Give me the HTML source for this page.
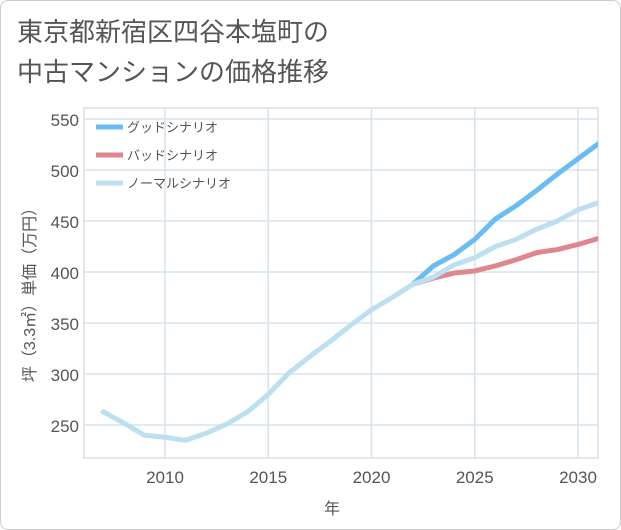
<!DOCTYPE html>
<html><head><meta charset="utf-8"><style>
body{margin:0;background:#fff;font-family:"Liberation Sans","Noto Sans CJK JP",sans-serif}
#c{position:relative;width:619px;height:528px;border:1px solid #ccc;border-radius:8px;overflow:hidden}
</style></head><body>
<div id="c">
<svg width="619" height="528" style="font-family:'Liberation Sans','Noto Sans CJK JP',sans-serif">
<text x="16" y="40" font-size="26" fill="#555">東京都新宿区四谷本塩町の</text>
<text x="16" y="80" font-size="26" fill="#555">中古マンションの価格推移</text>
<g id="grid"></g>
<g id="marks"></g>
<g id="legend"></g>
<text x="331" y="513" font-size="16" fill="#555" text-anchor="middle">年</text>
<text transform="translate(34,290) rotate(-90)" font-size="16" fill="#555" text-anchor="middle">坪（3.3㎡）単価（万円）</text>
</svg></div>
<script>
const years=[2007,2008,2009,2010,2011,2012,2013,2014,2015,2016,2017,2018,2019,2020,2021,2022,2023,2024,2025,2026,2027,2028,2029,2030,2031];
const normal=[263,252,240,238,235,242,251,263,280,301,317,332,348,363,375,388,395,407,414,425,432,442,450,461,468];
const futYears=[2022,2023,2024,2025,2026,2027,2028,2029,2030,2031];
const good=[388,406,417,432,452,465,480,496,511,526];
const bad=[388,394,399,401,406,412,419,422,427,433];
const xTicks=[2010,2015,2020,2025,2030];
const yTicks=[250,300,350,400,450,500,550];
const L=83,R=597,T=107,B=457;
const X=v=>164+(v-2010)*20.65;
const Y=v=>424-(v-250)*1.02;
const ns="http://www.w3.org/2000/svg";
function mk(p,t,a){const e=document.createElementNS(ns,t);for(const k in a)e.setAttribute(k,a[k]);p.appendChild(e);return e;}
const g=document.getElementById('grid');
const bg=mk(g,'rect',{x:L,y:T,width:R-L,height:B-T,fill:'#fff',stroke:'#ccc'});

xTicks.forEach(v=>{const l=mk(g,'line',{x1:X(v),x2:X(v),y1:T,y2:B,stroke:'#d5e3ee','stroke-width':1.5});

const t=mk(g,'text',{x:X(v),y:482,'font-size':17,fill:'#555','text-anchor':'middle'});t.textContent=v;
});
yTicks.forEach(v=>{const l=mk(g,'line',{x1:L,x2:R,y1:Y(v),y2:Y(v),stroke:'#d5e3ee','stroke-width':1.5});

const t=mk(g,'text',{x:78,y:Y(v)+7,'font-size':17,fill:'#555','text-anchor':'end'});t.textContent=v;
});
const m=document.getElementById('marks');
function line(xs,ys,c,n){const p=mk(m,'polyline',{points:xs.map((x,i)=>X(x)+','+Y(ys[i])).join(' '),fill:'none',stroke:c,'stroke-width':5,'stroke-linejoin':'round','stroke-linecap':'round','clip-path':'url(#cp)'});
}
const cp=mk(mk(m,'defs',{}),'clipPath',{id:'cp'});mk(cp,'rect',{x:L,y:T,width:R-L,height:B-T});
line(futYears,good,'#6bbcf2','good-scenario-line');
line(futYears,bad,'#e0868e','bad-scenario-line');
line(years,normal,'#bde0f0','normal-scenario-line');
const lg=document.getElementById('legend');
[['グッドシナリオ','#6bbcf2'],['バッドシナリオ','#e0868e'],['ノーマルシナリオ','#bde0f0']].forEach((d,i)=>{
const y=126+i*28;
const l=mk(lg,'line',{x1:95,x2:122,y1:y,y2:y,stroke:d[1],'stroke-width':5});

const t=mk(lg,'text',{x:126,y:y+5,'font-size':13,fill:'#555'});t.textContent=d[0];
});
</script></body></html>
